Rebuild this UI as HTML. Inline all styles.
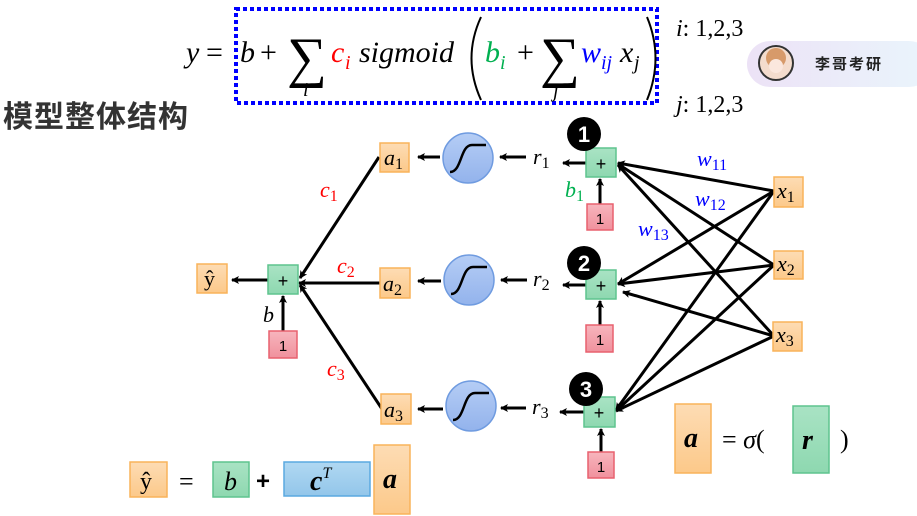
<!DOCTYPE html>
<html><head><meta charset="utf-8"><style>
body{margin:0;background:#fff;}
svg{display:block;}
.m{font-family:"Liberation Serif",serif;font-style:italic;}
</style></head><body>
<svg width="917" height="516" viewBox="0 0 917 516" xmlns="http://www.w3.org/2000/svg">
<defs>
<marker id="ar" markerWidth="8" markerHeight="8" refX="7" refY="4" orient="auto" markerUnits="userSpaceOnUse"><path d="M0,0 L8,4 L0,8 L2,4 z" fill="#000"/></marker>
<linearGradient id="og" x1="0" y1="0" x2="0" y2="1"><stop offset="0" stop-color="#fddcb4"/><stop offset="1" stop-color="#fcc98a"/></linearGradient>
<linearGradient id="gg" x1="0" y1="0" x2="0" y2="1"><stop offset="0" stop-color="#a9e3c4"/><stop offset="1" stop-color="#8ed8b0"/></linearGradient>
<linearGradient id="pg" x1="0" y1="0" x2="0" y2="1"><stop offset="0" stop-color="#f7b5bd"/><stop offset="1" stop-color="#f0919d"/></linearGradient>
<linearGradient id="cg" x1="0" y1="0" x2="0" y2="1"><stop offset="0" stop-color="#b5cdf5"/><stop offset="1" stop-color="#93b3ec"/></linearGradient>
<linearGradient id="bg" x1="0" y1="0" x2="0" y2="1"><stop offset="0" stop-color="#b0d8f2"/><stop offset="1" stop-color="#93c6ea"/></linearGradient>
<linearGradient id="pill" x1="0" y1="0" x2="1" y2="0"><stop offset="0" stop-color="#ece2f6"/><stop offset="1" stop-color="#eaf5fc"/></linearGradient>
</defs>

<!-- equation -->
<rect x="236" y="9" width="421" height="94" fill="none" stroke="#0000ff" stroke-width="4" stroke-dasharray="4,3"/>
<g class="m" font-size="30">
<text x="186" y="62">y</text>
<text x="206" y="62" font-style="normal">=</text>
<text x="240" y="62">b</text>
<text x="260" y="62" font-style="normal">+</text>
<text x="287" y="76" font-size="56" font-style="normal">∑</text>
<text x="303" y="96" font-size="20">i</text>
<text x="331" y="62" fill="#ff0000">c</text><text x="345" y="69" font-size="20" fill="#ff0000">i</text>
<text x="359" y="62">sigmoid</text>
<text x="485" y="62" fill="#00b050">b</text><text x="500" y="69" font-size="20" fill="#00b050">i</text>
<text x="517" y="62" font-style="normal">+</text>
<text x="540" y="76" font-size="56" font-style="normal">∑</text>
<text x="553" y="97" font-size="20">j</text>
<text x="581" y="62" fill="#0000ff">w</text><text x="601" y="69" font-size="20" fill="#0000ff">ij</text>
<text x="620" y="62">x</text><text x="634" y="69" font-size="20">j</text>
</g>
<path d="M481,17 Q462,58 481,100" fill="none" stroke="#000" stroke-width="2"/>
<path d="M647,17 Q664,58 647,100" fill="none" stroke="#000" stroke-width="2"/>
<text x="676" y="36" class="m" font-size="24">i<tspan font-style="normal">: 1,2,3</tspan></text>
<text x="676" y="112" class="m" font-size="24">j<tspan font-style="normal">: 1,2,3</tspan></text>

<!-- badge -->
<rect x="747" y="41" width="185" height="46" rx="23" fill="url(#pill)"/>
<circle cx="776" cy="63" r="17" fill="#f4dccd" stroke="#333" stroke-width="2"/>
<circle cx="776" cy="58" r="10" fill="#d79a6a"/>
<circle cx="776" cy="66" r="7" fill="#fbe7dd"/>
<text x="815" y="69" font-family="'Noto Sans CJK SC',sans-serif" font-size="15" font-weight="bold" letter-spacing="2" fill="#222">李哥考研</text>

<text x="3" y="127" font-family="'Noto Sans CJK SC',sans-serif" font-size="30" font-weight="bold" fill="#333" letter-spacing="1">模型整体结构</text>

<!-- connectors -->
<g stroke="#000" stroke-width="3" fill="none">
<line x1="440" y1="157" x2="418" y2="157" marker-end="url(#ar)"/>
<line x1="441" y1="281" x2="418" y2="281" marker-end="url(#ar)"/>
<line x1="443" y1="409" x2="418" y2="409" marker-end="url(#ar)"/>
<line x1="526" y1="157" x2="500" y2="157" marker-end="url(#ar)"/>
<line x1="527" y1="280" x2="501" y2="280" marker-end="url(#ar)"/>
<line x1="526" y1="408" x2="501" y2="408" marker-end="url(#ar)"/>
<line x1="586" y1="163" x2="563" y2="163" marker-end="url(#ar)"/>
<line x1="586" y1="285" x2="563" y2="285" marker-end="url(#ar)"/>
<line x1="584" y1="412" x2="560" y2="412" marker-end="url(#ar)"/>
<line x1="600" y1="204" x2="600" y2="179" marker-end="url(#ar)"/>
<line x1="600" y1="325" x2="600" y2="301" marker-end="url(#ar)"/>
<line x1="601" y1="452" x2="601" y2="429" marker-end="url(#ar)"/>
<line x1="283" y1="331" x2="283" y2="296" marker-end="url(#ar)"/>
<line x1="379" y1="157" x2="300" y2="278" marker-end="url(#ar)"/>
<line x1="380" y1="283" x2="299" y2="283" marker-end="url(#ar)"/>
<line x1="382" y1="409" x2="300" y2="285" marker-end="url(#ar)"/>
<line x1="268" y1="280" x2="232" y2="280" marker-end="url(#ar)"/>
<line x1="774" y1="191" x2="618" y2="163" marker-end="url(#ar)"/>
<line x1="774" y1="191" x2="618" y2="284" marker-end="url(#ar)"/>
<line x1="774" y1="191" x2="616" y2="410" marker-end="url(#ar)"/>
<line x1="774" y1="265" x2="618" y2="164" marker-end="url(#ar)"/>
<line x1="774" y1="265" x2="618" y2="284" marker-end="url(#ar)"/>
<line x1="774" y1="265" x2="616" y2="411" marker-end="url(#ar)"/>
<line x1="774" y1="336" x2="618" y2="165" marker-end="url(#ar)"/>
<line x1="774" y1="336" x2="623" y2="292" marker-end="url(#ar)"/>
<line x1="774" y1="336" x2="616" y2="411" marker-end="url(#ar)"/>
</g>

<!-- nodes -->
<g stroke-width="1.5">
<rect x="380" y="143" width="29" height="29" fill="url(#og)" stroke="#f9b35a"/>
<rect x="380" y="268" width="30" height="30" fill="url(#og)" stroke="#f9b35a"/>
<rect x="381" y="394" width="30" height="30" fill="url(#og)" stroke="#f9b35a"/>
<rect x="197" y="264" width="30" height="29" fill="url(#og)" stroke="#f9b35a"/>
<rect x="774" y="177" width="29" height="30" fill="url(#og)" stroke="#f9b35a"/>
<rect x="774" y="251" width="29" height="28" fill="url(#og)" stroke="#f9b35a"/>
<rect x="773" y="322" width="29" height="29" fill="url(#og)" stroke="#f9b35a"/>
<rect x="586" y="148" width="30" height="29" fill="url(#gg)" stroke="#5ec48e"/>
<rect x="586" y="270" width="30" height="29" fill="url(#gg)" stroke="#5ec48e"/>
<rect x="584" y="397" width="31" height="30" fill="url(#gg)" stroke="#5ec48e"/>
<rect x="268" y="265" width="30" height="29" fill="url(#gg)" stroke="#5ec48e"/>
<rect x="587" y="204" width="26" height="26" fill="url(#pg)" stroke="#e8616f"/>
<rect x="586" y="325" width="27" height="27" fill="url(#pg)" stroke="#e8616f"/>
<rect x="588" y="452" width="26" height="26" fill="url(#pg)" stroke="#e8616f"/>
<rect x="269" y="331" width="28" height="27" fill="url(#pg)" stroke="#e8616f"/>
<circle cx="468" cy="158" r="25" fill="url(#cg)" stroke="#6f9be0"/>
<circle cx="469" cy="280" r="25" fill="url(#cg)" stroke="#6f9be0"/>
<circle cx="471" cy="406" r="25" fill="url(#cg)" stroke="#6f9be0"/>
</g>
<g fill="none" stroke="#000" stroke-width="2.5">
<path d="M450,172 C462,172 460,145 472,145 L486,145"/>
<path d="M451,294 C463,294 461,267 473,267 L487,267"/>
<path d="M453,420 C465,420 463,393 475,393 L489,393"/>
</g>
<g fill="#000">
<circle cx="584" cy="134" r="17"/><circle cx="584" cy="263" r="17"/><circle cx="586" cy="389" r="17"/>
</g>
<g font-family="'Liberation Sans',sans-serif" font-weight="bold" font-size="22" fill="#fff" text-anchor="middle">
<text x="584" y="142">1</text><text x="584" y="271">2</text><text x="586" y="397">3</text>
</g>
<g font-family="'Liberation Sans',sans-serif" font-size="18" text-anchor="middle" fill="#000">
<text x="601" y="170">+</text><text x="601" y="292">+</text><text x="599" y="419">+</text><text x="283" y="287">+</text>
<text x="600" y="224" font-size="15">1</text><text x="600" y="345" font-size="15">1</text><text x="601" y="472" font-size="15">1</text><text x="283" y="351" font-size="15">1</text>
</g>
<g class="m" font-size="22">
<text x="384" y="165">a<tspan font-size="16" font-style="normal" dy="4">1</tspan></text>
<text x="383" y="291">a<tspan font-size="16" font-style="normal" dy="4">2</tspan></text>
<text x="384" y="417">a<tspan font-size="16" font-style="normal" dy="4">3</tspan></text>
<text x="533" y="164">r<tspan font-size="16" font-style="normal" dy="4">1</tspan></text>
<text x="533" y="286">r<tspan font-size="16" font-style="normal" dy="4">2</tspan></text>
<text x="532" y="414">r<tspan font-size="16" font-style="normal" dy="4">3</tspan></text>
<text x="777" y="198">x<tspan font-size="16" font-style="normal" dy="4">1</tspan></text>
<text x="777" y="271">x<tspan font-size="16" font-style="normal" dy="4">2</tspan></text>
<text x="776" y="342">x<tspan font-size="16" font-style="normal" dy="4">3</tspan></text>
<text x="204" y="286" font-style="normal">ŷ</text>
<text x="263" y="322">b</text>
<text x="565" y="197" fill="#00b050">b<tspan font-size="16" font-style="normal" dy="4">1</tspan></text>
<text x="320" y="197" fill="#ff0000">c<tspan font-size="16" font-style="normal" dy="4">1</tspan></text>
<text x="337" y="273" fill="#ff0000">c<tspan font-size="16" font-style="normal" dy="4">2</tspan></text>
<text x="327" y="376" fill="#ff0000">c<tspan font-size="16" font-style="normal" dy="4">3</tspan></text>
<text x="697" y="166" fill="#0000ff">w<tspan font-size="16" font-style="normal" dy="4">11</tspan></text>
<text x="695" y="206" fill="#0000ff">w<tspan font-size="16" font-style="normal" dy="4">12</tspan></text>
<text x="638" y="236" fill="#0000ff">w<tspan font-size="16" font-style="normal" dy="4">13</tspan></text>
</g>

<!-- a = sigma(r) -->
<rect x="675" y="404" width="36" height="69" fill="url(#og)" stroke="#f9b35a" stroke-width="1.5"/>
<rect x="793" y="406" width="36" height="67" fill="url(#gg)" stroke="#5ec48e" stroke-width="1.5"/>
<text x="684" y="447" class="m" font-size="28" font-weight="bold">a</text>
<text x="722" y="448" class="m" font-size="26"><tspan font-style="normal">=</tspan> σ<tspan font-style="normal">(</tspan></text>
<text x="802" y="449" class="m" font-size="28" font-weight="bold">r</text>
<text x="840" y="448" font-family="'Liberation Serif',serif" font-size="26">)</text>

<!-- bottom equation -->
<rect x="130" y="462" width="37" height="35" fill="url(#og)" stroke="#f9b35a" stroke-width="1.5"/>
<rect x="213" y="462" width="36" height="35" fill="url(#gg)" stroke="#5ec48e" stroke-width="1.5"/>
<rect x="284" y="462" width="86" height="34" fill="url(#bg)" stroke="#5aa9e0" stroke-width="1.5"/>
<rect x="374" y="445" width="36" height="69" fill="url(#og)" stroke="#f9b35a" stroke-width="1.5"/>
<text x="140" y="489" font-family="'Liberation Serif',serif" font-size="24">ŷ</text>
<text x="179" y="490" font-family="'Liberation Serif',serif" font-size="26">=</text>
<text x="224" y="490" class="m" font-size="26">b</text>
<text x="256" y="489" font-family="'Liberation Sans',sans-serif" font-size="24" font-weight="bold">+</text>
<text x="310" y="490" class="m" font-size="28" font-weight="bold">c<tspan font-size="16" font-weight="normal" dy="-12">T</tspan></text>
<text x="383" y="488" class="m" font-size="28" font-weight="bold">a</text>
</svg>
</body></html>
